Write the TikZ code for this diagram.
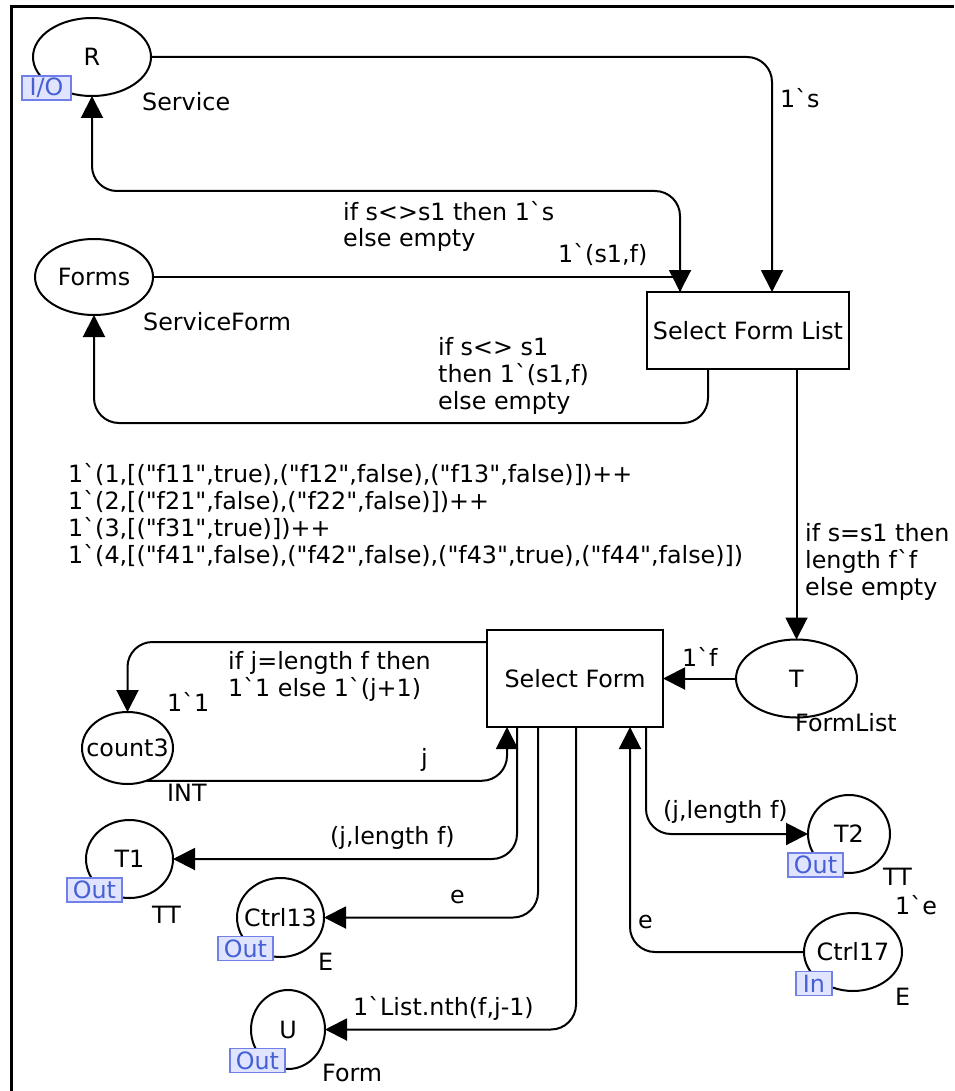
\documentclass[tikz,border=0pt]{standalone}
\usepackage{fontspec}
\newfontfamily\cpn{DejaVu Sans}
\usetikzlibrary{arrows.meta,calc,shapes.geometric}
\definecolor{tagfill}{RGB}{224,228,255}
\definecolor{tagline}{RGB}{112,128,232}
\definecolor{tagtext}{RGB}{70,96,212}
\begin{document}
\begin{tikzpicture}[x=1pt,y=-1pt,
  every node/.style={font=\cpn\fontsize{23.8}{26.7}\selectfont, inner sep=0pt},
  place/.style={draw, ellipse, line width=2pt, outer sep=0pt},
  trans/.style={draw, rectangle, line width=2.2pt, outer sep=0pt},
  tag/.style={draw=tagline, fill=tagfill, text=tagtext, line width=1.2pt, minimum height=24pt},
  conn/.style={line width=2pt, -{Triangle[width=22pt,length=22pt]}, rounded corners=25pt},
  lbl/.style={anchor=west, align=left}]
\useasboundingbox (0,0) rectangle (954,1091);
% frame
\draw[line width=3.5pt] (11.5,1091) -- (11.5,6.5) -- (954,6.5);
% places and transitions
\node[place, minimum width=118pt, minimum height=78pt] (R) at (92,57) {\makebox[0pt]{R}};
\node[place, minimum width=118pt, minimum height=76pt] (Forms) at (94,277) {\makebox[0pt]{Forms}};
\node[trans, minimum width=202pt, minimum height=77pt] (SFL) at (748,330.5) {Select Form List};
\node[place, minimum width=121pt, minimum height=78pt] (T) at (796.5,678.5) {\makebox[0pt]{T}};
\node[trans, minimum width=176pt, minimum height=97pt] (SF) at (575,678.5) {Select Form};
\node[place, minimum width=91pt, minimum height=72pt] (count3) at (127.5,748) {\makebox[0pt]{count3}};
\node[place, minimum width=87pt, minimum height=78pt] (T1) at (129.5,859) {\makebox[0pt]{T1}};
\node[place, minimum width=87pt, minimum height=79pt] (Ctrl13) at (280.5,917.5) {\makebox[0pt]{Ctrl13}};
\node[place, minimum width=74pt, minimum height=79pt] (U) at (288,1029.5) {\makebox[0pt]{U}};
\node[place, minimum width=82pt, minimum height=78pt] (T2) at (849,834) {\makebox[0pt]{T2}};
\node[place, minimum width=98pt, minimum height=78pt] (Ctrl17) at (853,952) {\makebox[0pt]{Ctrl17}};
% port tags
\node[tag, minimum width=49pt] (tR) at (46.5,88) {I/O};
\node[tag, minimum width=55pt] (tT1) at (94.5,890) {Out};
\node[tag, minimum width=55pt] (tC13) at (245.5,948.5) {Out};
\node[tag, minimum width=55pt] (tU) at (257.5,1060.5) {Out};
\node[tag, minimum width=55pt] (tT2) at (815.5,865) {Out};
\node[tag, minimum width=36pt] (tC17) at (814,983.5) {In};
% type / marking labels
\node[lbl] (lService) at (142,102) {Service};
\node[lbl] (lSF) at (143,322) {ServiceForm};
\node[lbl] (lFL) at (795,723) {FormList};
\node[lbl] (lINT) at (167,793) {INT};
\node[lbl] (lTT1) at (152,915) {TT};
\node[lbl] (lE13) at (318,962) {E};
\node[lbl] (lForm) at (322,1073) {Form};
\node[lbl] (lTT2) at (883,877) {TT};
\node[lbl] (lE17) at (895,997) {E};
\node[lbl] (m3) at (167,702) {1`1};
\node[lbl] (m17) at (895,905) {1`e};
\node[lbl] (mForms) at (68,515) {1`(1,[("f11",true),("f12",false),("f13",false)])++\\1`(2,[("f21",false),("f22",false)])++\\1`(3,[("f31",true)])++\\1`(4,[("f41",false),("f42",false),("f43",true),("f44",false)])};
% helper coordinates for bends
\coordinate (b1) at (92,191);
\coordinate (b2) at (94,423);
% arcs
\draw[conn] (R.east) -| ($(SFL.north west)+(125,0)$);
\draw[conn] ($(SFL.north west)+(33,0)$) |- (b1) -- (R.south);
\draw[conn, rounded corners=0pt] (Forms.east) -| ($(SFL.north west)+(33,0)$);
\draw[conn] ($(SFL.south west)+(61,0)$) |- (b2) -- (Forms.south);
\draw[conn] (T.north |- SFL.south) -- (T.north);
\draw[conn] (T.west) -- (SF.east);
\draw[conn] ($(SF.north west)+(0,12)$) -| (count3.north);
\draw[conn] (count3.-60) -| ($(SF.south west)+(20,0)$);
\draw[conn] ($(SF.south west)+(30,0)$) |- (T1.east);
\draw[conn] ($(SF.south west)+(51,0)$) |- (Ctrl13.east);
\draw[conn] ($(SF.south west)+(89,0)$) |- (U.east);
\draw[conn] ($(SF.south west)+(159,0)$) |- (T2.west);
\draw[conn] (Ctrl17.west) -| ($(SF.south west)+(143,0)$);
% arc inscriptions
\node[lbl] (a1) at (780,98) {1`s};
\node[lbl] (a2) at (343,226.5) {if s<>s1 then 1`s\\else empty};
\node[lbl] (a3) at (558,255) {1`(s1,f)};
\node[lbl] (a4) at (438,376) {if s<> s1\\then 1`(s1,f)\\else empty};
\node[lbl] (a5) at (805,562) {if s=s1 then\\length f`f\\else empty};
\node[lbl] (a6) at (682,657) {1`f};
\node[lbl] (a7) at (228,676.5) {if j=length f then\\1`1 else 1`(j+1)};
\node[lbl] (a8) at (421,760) {j};
\node[lbl] (a9) at (330,838) {(j,length f)};
\node[lbl] (a10) at (450,897) {e};
\node[lbl] (a11) at (353,1008) {1`List.nth(f,j-1)};
\node[lbl] (a12) at (663,812) {(j,length f)};
\node[lbl] (a13) at (638,922) {e};
\end{tikzpicture}
\end{document}
